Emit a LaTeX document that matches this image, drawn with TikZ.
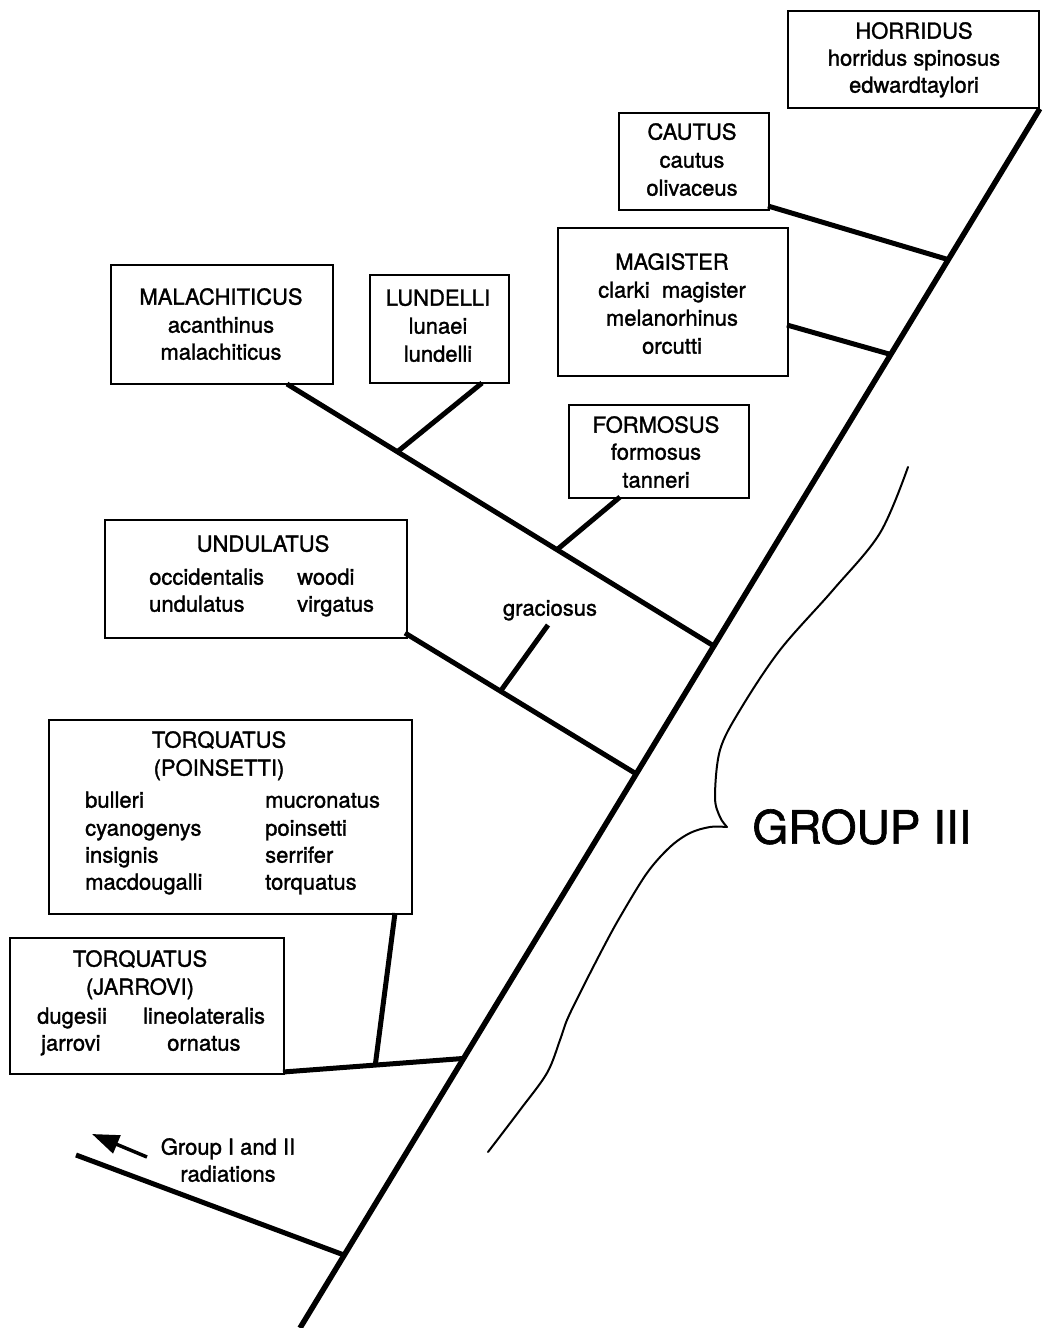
\documentclass[tikz,border=0pt]{standalone}
\usepackage{fontspec}
\setmainfont{TeX Gyre Heros}[FakeBold=1.4]
\usetikzlibrary{calc,arrows.meta}
\begin{document}
\begin{tikzpicture}[x=1pt,y=-1pt,
  box/.style={draw,line width=1.8pt,inner sep=0pt,anchor=north west},
  lbl/.style={inner sep=0pt,anchor=mid,yshift=-5pt,font=\fontsize{22}{26}\selectfont},
  lbll/.style={lbl,anchor=mid west},
  trunkline/.style={line width=5.5pt},
  branch/.style={line width=5pt},
  bracel/.style={line width=2pt,line cap=round}]
\useasboundingbox (0,0) rectangle (1056,1328);

% ---------- boxes ----------
\node[box,minimum width=251pt,minimum height=97pt] (horridus) at (787,10) {};
\node[lbl] (horridusA) at (914,31) {HORRIDUS};
\node[lbl] (horridusB) at (914,58) {horridus spinosus};
\node[lbl] (horridusC) at (914,85) {edwardtaylori};

\node[box,minimum width=150pt,minimum height=97pt] (cautus) at (618,112) {};
\node[lbl] (cautusA) at (692,132) {CAUTUS};
\node[lbl] (cautusB) at (692,160) {cautus};
\node[lbl] (cautusC) at (692,188) {olivaceus};

\node[box,minimum width=230pt,minimum height=148pt] (magister) at (557,227) {};
\node[lbl] (magisterA) at (672,262) {MAGISTER};
\node[lbl] (magisterB) at (672,290) {clarki\ \ magister};
\node[lbl] (magisterC) at (672,318) {melanorhinus};
\node[lbl] (magisterD) at (672,346) {orcutti};

\node[box,minimum width=222pt,minimum height=119pt] (malach) at (110,264) {};
\node[lbl] (malachA) at (221,297) {MALACHITICUS};
\node[lbl] (malachB) at (221,325) {acanthinus};
\node[lbl] (malachC) at (221,352) {malachiticus};

\node[box,minimum width=139pt,minimum height=108pt] (lundelli) at (369,274) {};
\node[lbl] (lundelliA) at (438,298) {LUNDELLI};
\node[lbl] (lundelliB) at (438,326) {lunaei};
\node[lbl] (lundelliC) at (438,354) {lundelli};

\node[box,minimum width=180pt,minimum height=93pt] (formosus) at (568,404) {};
\node[lbl] (formosusA) at (656,425) {FORMOSUS};
\node[lbl] (formosusB) at (656,452) {formosus};
\node[lbl] (formosusC) at (656,480) {tanneri};

\node[box,minimum width=302pt,minimum height=118pt] (undul) at (104,519) {};
\node[lbl] (undulA) at (263,544) {UNDULATUS};
\node[lbll] (undulB) at (149,577) {occidentalis};
\node[lbll] (undulC) at (149,604) {undulatus};
\node[lbll] (undulD) at (297,577) {woodi};
\node[lbll] (undulE) at (297,604) {virgatus};

\node[box,minimum width=363pt,minimum height=194pt] (poins) at (48,719) {};
\node[lbl] (poinsA) at (219,740) {TORQUATUS};
\node[lbl] (poinsB) at (219,768) {(POINSETTI)};
\node[lbll] (poinsC) at (85,800) {bulleri};
\node[lbll] (poinsD) at (85,828) {cyanogenys};
\node[lbll] (poinsE) at (85,855) {insignis};
\node[lbll] (poinsF) at (85,882) {macdougalli};
\node[lbll] (poinsG) at (265,800) {mucronatus};
\node[lbll] (poinsH) at (265,828) {poinsetti};
\node[lbll] (poinsI) at (265,855) {serrifer};
\node[lbll] (poinsJ) at (265,882) {torquatus};

\node[box,minimum width=274pt,minimum height=136pt] (jarrovi) at (9,937) {};
\node[lbl] (jarroviA) at (140,959) {TORQUATUS};
\node[lbl] (jarroviB) at (140,987) {(JARROVI)};
\node[lbll] (jarroviC) at (37,1016) {dugesii};
\node[lbll] (jarroviD) at (143,1016) {lineolateralis};
\node[lbll] (jarroviE) at (41,1043) {jarrovi};
\node[lbll] (jarroviF) at (167,1043) {ornatus};

\node[lbl] (gracio) at (550,608) {graciosus};
\node[lbl] (grpA) at (228,1147) {Group I and II};
\node[lbl] (grpB) at (228,1174) {radiations};
\node[inner sep=0pt,anchor=mid,font=\fontsize{46}{50}\selectfont] (group3) at (862,841) {GROUP III};

% ---------- trunk ----------
\coordinate (base) at (300,1328);
\draw[trunkline] (base) -- (horridus.south east);
\coordinate (jC) at ($(base)!0.8763!(horridus.south east)$);
\coordinate (jM) at ($(base)!0.7985!(horridus.south east)$);
\coordinate (jL) at ($(base)!0.5594!(horridus.south east)$);
\coordinate (jU) at ($(base)!0.4545!(horridus.south east)$);
\coordinate (jJ) at ($(base)!0.2211!(horridus.south east)$);
\coordinate (jG) at ($(base)!0.0598!(horridus.south east)$);

% ---------- branches ----------
\coordinate (cautusE) at (768,206);
\draw[branch] (cautusE) -- (jC);
\coordinate (magE) at (787,325);
\draw[branch] (magE) -- (jM);

\coordinate (malE) at (287,384);
\draw[branch] (malE) -- (jL);
\coordinate (jLu) at ($(malE)!0.2586!(jL)$);
\coordinate (lunE) at (482,383);
\draw[branch] (lunE) -- (jLu);
\coordinate (jFo) at ($(malE)!0.6325!(jL)$);
\coordinate (forE) at (620,497);
\draw[branch] (forE) -- (jFo);

\coordinate (undE) at (405,633);
\draw[branch] (undE) -- (jU);
\coordinate (jGr) at ($(undE)!0.413!(jU)$);
\coordinate (graE) at (548,625);
\draw[branch] (graE) -- (jGr);

\coordinate (jarE) at (283,1072);
\draw[branch] (jarE) -- (jJ);
\coordinate (jPo) at ($(jarE)!0.511!(jJ)$);
\coordinate (poiE) at (395,913);
\draw[branch] (poiE) -- (jPo);

\coordinate (grpE) at (76,1155);
\draw[branch] (grpE) -- (jG);
\coordinate (arT) at (147,1157);
\coordinate (arH) at (92,1134);
\draw[line width=3.5pt,-{Triangle[length=27pt,width=19pt]}] (arT) -- (arH);

% ---------- brace ----------
\draw[bracel] plot[smooth,tension=0.55] coordinates {(908,467) (880,533) (833,590) (780,650) (740,710) (720,750) (715,797) (720,817) (727,827)};
\draw[bracel] plot[smooth,tension=0.55] coordinates {(727,827) (710,827) (690,833) (670,847) (647,873) (620,917) (602,950) (580,993) (567,1020) (560,1040) (547,1073) (520,1110) (488,1152)};
\end{tikzpicture}
\end{document}
